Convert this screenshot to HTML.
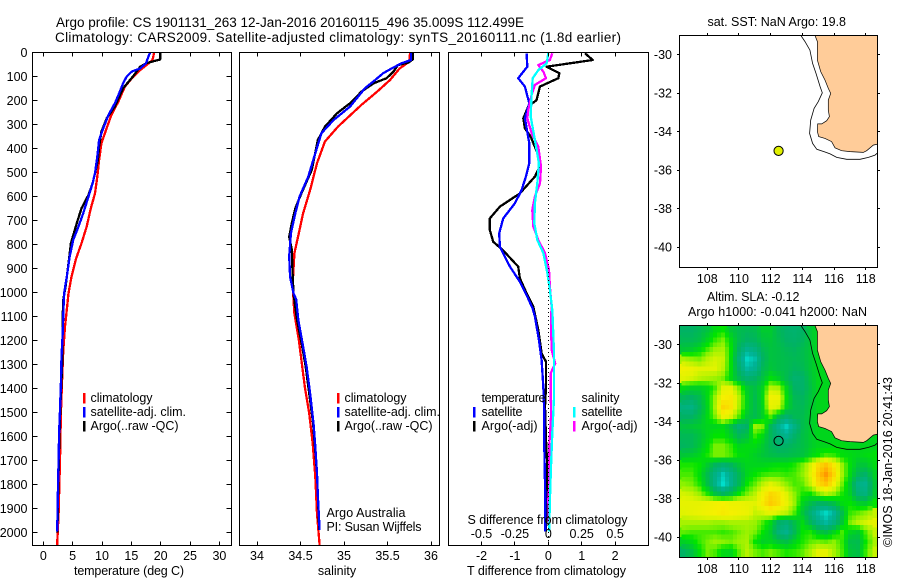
<!DOCTYPE html>
<html>
<head>
<meta charset="utf-8">
<title>Argo profile</title>
<style>
html,body{margin:0;padding:0;background:#fff;width:900px;height:580px;overflow:hidden}
svg{display:block}
text{font-family:"Liberation Sans",sans-serif;font-size:12.5px;fill:#000}
.ttl{font-size:13.5px}
</style>
</head>
<body>
<svg id="fig" width="900" height="580" viewBox="0 0 900 580" xmlns="http://www.w3.org/2000/svg">
  <defs>
    <clipPath id="clip-map2"><rect x="679.5" y="325.5" width="198" height="232"/></clipPath>
    <clipPath id="clip-map1"><rect x="679.5" y="35.5" width="198" height="232"/></clipPath>
  </defs>
  <text class="ttl" x="56" y="27" textLength="468" lengthAdjust="spacing">Argo profile: CS 1901131_263 12-Jan-2016 20160115_496 35.009S 112.499E</text>
  <text class="ttl" x="55" y="42" textLength="566" lengthAdjust="spacing">Climatology: CARS2009. Satellite-adjusted climatology: synTS_20160111.nc (1.8d earlier)</text>

  <g id="marks"></g>

  <text x="74" y="575" textLength="110">temperature (deg C)</text>
  <text x="337" y="575" text-anchor="middle">salinity</text>
  <text x="467" y="575" textLength="159">T difference from climatology</text>
  <text x="467.5" y="524" textLength="160">S difference from climatology</text>

  <g>
    <rect x="83" y="393" width="2.5" height="10.5" fill="#f00"/><rect x="83" y="407" width="2.5" height="10.5" fill="#00f"/><rect x="83" y="421" width="2.5" height="10.5" fill="#000"/>
    <text x="90.5" y="402" textLength="62">climatology</text><text x="90.5" y="416" textLength="95.5">satellite-adj. clim.</text><text x="90.5" y="430" textLength="88">Argo(..raw -QC)</text>
  </g>
  <g>
    <rect x="337" y="393" width="2.5" height="10.5" fill="#f00"/><rect x="337" y="407" width="2.5" height="10.5" fill="#00f"/><rect x="337" y="421" width="2.5" height="10.5" fill="#000"/>
    <text x="344.5" y="402" textLength="62">climatology</text><text x="344.5" y="416" textLength="95.5">satellite-adj. clim.</text><text x="344.5" y="430" textLength="88">Argo(..raw -QC)</text>
  </g>
  <text x="326.5" y="517" textLength="79">Argo Australia</text>
  <text x="326.5" y="531" textLength="95">PI: Susan Wijffels</text>
  <g>
    <text x="481.5" y="402" textLength="64">temperature</text><text x="481.5" y="416" textLength="41">satellite</text><text x="481.5" y="430" textLength="56">Argo(-adj)</text>
    <rect x="473" y="407" width="2.5" height="10.5" fill="#00f"/><rect x="473" y="421" width="2.5" height="10.5" fill="#000"/>
    <text x="581.5" y="402" textLength="38">salinity</text><text x="581.5" y="416" textLength="41">satellite</text><text x="581.5" y="430" textLength="56">Argo(-adj)</text>
    <rect x="573" y="407" width="2.5" height="10.5" fill="#0ff"/><rect x="573" y="421" width="2.5" height="10.5" fill="#f0f"/>
  </g>

  <text x="707.5" y="26" textLength="138.5">sat. SST: NaN Argo: 19.8</text>
  <text x="707" y="301" textLength="92.5">Altim. SLA: -0.12</text>
  <text x="688" y="316" textLength="179">Argo h1000: -0.041 h2000: NaN</text>
  <text transform="rotate(-90 892 547)" x="892" y="547" textLength="170">©IMOS 18-Jan-2016 20:41:43</text>
</svg>
<script>
// ---------- profile data (depth in dbar) ----------
const depthTicks = [0,100,200,300,400,500,600,700,800,900,1000,1100,1200,1300,1400,1500,1600,1700,1800,1900,2000];
const tempTicks = [0,5,10,15,20,25,30];
const salTicks = [34,34.5,35,35.5,36];
const salTickLabels = ['34','34.5','35','35.5','36'];
const tDiffTicks = [-2,-1,0,1,2];
const sDiffTicks = [-0.5,-0.25,0,0.25,0.5];
const sDiffTickLabels = ['-0.5','-0.25','0','0.25','0.5'];
const lonTicks = [108,110,112,114,116,118];
const latTicks = [-30,-32,-34,-36,-38,-40];

const tempArgoDepth = [0,30,45,60,100,150,226,275,330,393,450,504,546,594,650,705,754,796,880,976,1030,1101,1310,1450,1600,1800,2000];
const tempArgo = [19.9,19.9,17.6,16.5,15.3,13.6,12.2,10.8,9.9,9.5,9.3,8.8,8.4,7.7,6.5,5.8,5.2,4.7,4.3,3.8,3.4,3.3,3.2,2.95,2.75,2.55,2.4];
const tempSatDepth = [0,18,46,67,80,101,129,178,212,261,317,365,435,504,546,601,671,726,782,851,935,997,1030,1171,1268,1379,1490,1587,1699,1810,1949,1997];
const tempSat = [18.2,17.9,17.5,16.5,15.1,14.2,13.6,12.8,12.2,11.1,10.2,9.5,9.2,8.8,8.4,7.7,6.8,6,5.1,4.5,4,3.6,3.5,3.3,3.1,3,2.85,2.7,2.6,2.5,2.4,2.35];
const tempClimDepth = [0,32,53,80,108,143,205,261,323,379,449,518,588,650,726,796,858,935,1004,1073,1143,1240,1365,1504,1699,1921,2004,2053];
const tempClim = [18.9,18.6,17.6,16.2,15.1,13.9,12.8,11.6,10.7,9.9,9.5,9.2,8.8,8.1,7.4,6.5,5.6,4.8,4.3,4,3.7,3.4,3.2,3,2.85,2.6,2.45,2.35];

const salArgoDepth = [0,30,43,53,80,108,129,164,212,254,310,365,490,588,650,712,768,823,935,1004,1115,1226,1310,1421,1546,1643,1754,1851,1990];
const salArgo = [35.79,35.79,35.74,35.62,35.57,35.49,35.34,35.2,35.07,34.92,34.78,34.7,34.63,34.51,34.44,34.4,34.37,34.4,34.41,34.42,34.46,34.52,34.56,34.6,34.645,34.665,34.69,34.7,34.715];
const salSatDepth = [0,32,46,67,87,115,150,226,282,337,421,518,601,671,754,851,935,1004,1030,1115,1226,1310,1421,1546,1643,1754,1851,1990];
const salSat = [35.77,35.77,35.66,35.55,35.45,35.36,35.24,35.07,34.88,34.74,34.67,34.59,34.49,34.44,34.39,34.37,34.38,34.42,34.45,34.475,34.53,34.57,34.61,34.65,34.67,34.69,34.7,34.72];
const salClimDepth = [0,39,67,115,164,219,310,372,462,574,671,754,837,962,1030,1087,1198,1282,1393,1504,1629,1768,1921,2053];
const salClim = [35.76,35.75,35.64,35.53,35.38,35.2,34.93,34.78,34.69,34.61,34.53,34.48,34.43,34.41,34.42,34.43,34.48,34.51,34.55,34.6,34.64,34.67,34.69,34.72];

const dtArgoDepth = [4,32,60,87,108,143,199,226,275,317,351,435,483,518,588,643,692,740,789,826,893,942,1004,1060,1157,1254,1289,1393,1476,1615,1726,1865,1997];
const dtArgo = [1.1,1.33,-0.05,0.33,0.3,-0.25,-0.35,-0.6,-0.75,-0.7,-0.53,-0.28,-0.28,-0.4,-0.85,-1.45,-1.75,-1.75,-1.65,-1.35,-0.9,-0.85,-0.65,-0.45,-0.3,-0.2,-0.07,-0.07,-0.1,-0.07,-0.03,-0.05,-0.07];
const dtSatDepth = [4,60,108,143,213,275,379,462,518,574,629,692,754,810,893,956,1018,1067,1101,1198,1282,1393,1504,1643,1865,1997];
const dtSat = [-0.65,-0.63,-0.9,-0.7,-0.57,-0.7,-0.57,-0.57,-0.67,-0.8,-1,-1.35,-1.47,-1.45,-1.15,-0.85,-0.63,-0.47,-0.4,-0.28,-0.2,-0.15,-0.12,-0.12,-0.09,-0.09];
const dsArgoDepth = [4,32,53,81,108,136,178,240,275,337,393,476,546,601,657,726,782,837,907,976,1060,1115,1240,1296,1337,1518,1643,1810,1865,1997];
const dsArgo = [0.03,0.012,-0.075,-0.037,-0.017,-0.1,-0.125,-0.15,-0.157,-0.125,-0.075,-0.055,-0.062,-0.1,-0.12,-0.112,-0.075,-0.025,0.005,0.012,0.025,0.02,0.025,0.052,0.018,0.02,0.007,0.007,0,0.007];
const dsSatDepth = [4,46,74,108,178,268,365,462,546,629,712,782,837,921,990,1074,1101,1240,1449,1587,1726,1865,1997];
const dsSat = [0,-0.012,-0.075,-0.117,-0.125,-0.132,-0.1,-0.07,-0.082,-0.1,-0.105,-0.082,-0.037,-0.007,0.012,0.03,0.032,0.042,0.042,0.03,0.02,0.012,0.007];

// ---------- map data ----------
const landLon = [114.8,114.95,114.95,115.16,115.43,115.64,115.79,115.64,115.64,115.71,115.54,115.22,114.97,114.95,115.03,115.43,115.85,116.06,116.48,117.01,117.85,118.06,118.48,118.76,118.76];
const landLat = [-29,-29.32,-30.28,-30.88,-31.32,-31.75,-32.01,-32.36,-32.88,-33.22,-33.43,-33.6,-33.6,-34,-34.26,-34.35,-34.52,-34.84,-34.99,-35.04,-35.08,-34.99,-34.7,-34.65,-29];
const isoLon = [113.89,114.17,114.48,114.65,114.86,115.12,115.26,115.01,114.74,114.53,114.46,114.65,114.91,115.43,115.75,116.17,116.8,117.64,118.17,118.59,118.76];
const isoLat = [-28.98,-29.32,-29.76,-30.45,-30.97,-31.66,-31.98,-32.44,-32.79,-33.4,-34.09,-34.61,-34.92,-35.06,-35.16,-35.34,-35.44,-35.44,-35.34,-35.22,-35.1];
const profileLon = 112.5;
const profileLat = -35;

// sea level anomaly (cm): rows north to south, 0.5 deg spacing from 29.25S; columns from 106.5E
const slaFirstLon = 106.5;
const slaFirstLat = -29.25;
const slaStep = 0.5;
const slaGrid = [
[-12,-12,-10,-7,-2,0,-6,-9,-10,-9,-5,-5,-10,-13,-14,-12,-6,-3,-3,-3,-3,-3,-3,-3,-3],
[-10,-10,-8,-3,2,5,-2,-9,-12,-11,-7,-6,-9,-12,-13,-11,-6,-3,-3,-3,-3,-3,-3,-3,-3],
[-6,-5,-2,3,7,8,0,-12,-20,-17,-10,-7,-8,-10,-11,-9,-6,-3,-3,-3,-3,-3,-3,-3,-3],
[8,6,5,9,11,10,-1,-16,-28,-24,-12,-7,-8,-9,-10,-9,-6,-3,-3,-3,-3,-3,-3,-3,-3],
[15,14,12,12,12,9,-1,-13,-23,-20,-10,-6,-8,-9,-11,-10,-6,-3,-3,-3,-3,-3,-3,-3,-3],
[12,11,9,8,7,5,-2,-9,-14,-12,-7,-1,-4,-9,-14,-13,-7,-3,-3,-3,-3,-3,-3,-3,-3],
[-2,-4,-4,-2,3,12,13,5,-5,-8,-3,9,8,-3,-12,-13,-8,-3,-3,-3,-3,-3,-3,-3,-3],
[-10,-12,-9,-2,7,16,17,9,-3,-9,-2,15,14,-1,-10,-11,-7,-3,-3,-3,-3,-3,-3,-3,-3],
[-17,-18,-11,-3,8,20,18,8,-3,-9,-3,13,11,-3,-9,-10,-6,-3,-3,-3,-3,-3,-3,-3,-3],
[-12,-12,-8,-2,5,14,11,3,-6,-9,-4,3,-8,-14,-10,-9,-5,-3,-3,-3,-3,-3,-3,-3,-3],
[-7,-6,-5,-3,-3,-2,-7,-15,-12,7,5,-10,-20,-27,-18,-9,-5,-3,-3,-3,-3,-3,-3,-3,-3],
[-10,-10,-7,-3,0,0,-4,-10,-7,2,-2,-10,-16,-20,-13,-8,-5,-3,-3,-3,-3,-3,-3,-3,-3],
[-11,-10,-6,-1,5,5,2,-3,-2,-2,-5,-10,-13,-12,-10,-8,-5,-3,-3,-2,-2,-3,-3,-3,-3],
[-6,-5,-3,1,5,5,3,-1,-2,-4,-6,-8,-9,-9,-8,-7,-3,0,3,2,-1,-2,-3,-2,-1],
[1,1,0,-5,-11,-14,-11,-6,-3,-3,-3,-2,-1,-1,1,5,11,19,23,17,7,-1,-6,-6,-2],
[3,3,-1,-9,-18,-26,-19,-10,-3,0,2,3,3,2,3,6,12,22,29,20,8,-2,-10,-13,-4],
[6,5,1,-8,-19,-29,-20,-10,0,4,9,12,10,6,3,4,10,19,23,16,5,-5,-18,-20,-6],
[11,10,7,1,-7,-11,-7,0,5,9,15,20,18,12,6,1,0,5,9,6,1,-4,-15,-17,-5],
[13,13,13,14,15,16,14,14,13,12,17,22,19,14,7,-3,-8,-12,-11,-8,-2,0,-4,-5,0],
[12,13,14,15,16,17,16,15,14,10,11,13,11,9,3,-6,-15,-23,-28,-22,-9,2,4,6,10],
[8,8,8,8,7,7,8,8,8,7,3,-2,-12,-15,-8,-2,-10,-18,-23,-17,-6,5,9,11,13],
[4,3,3,3,3,2,3,5,7,5,0,-5,-16,-20,-10,0,1,-5,-8,-3,3,-3,-5,3,10],
[-4,-2,2,5,7,6,5,7,8,0,-4,-3,-6,-8,-3,1,4,5,4,6,2,-8,-9,0,8],
[-12,-8,-1,5,3,-2,-3,4,9,5,3,5,3,1,2,4,8,13,13,8,3,-6,-8,2,10],
[-12,-8,-1,5,3,-2,-3,4,9,5,3,5,3,1,2,4,8,13,13,8,3,-6,-8,2,10]
];

// ---------- axis functions ----------
const yDepth = d => 52.3 + 0.24 * d;
const xTemp = t => 43.3 + 5.87 * t;
const xSal = s => 257 + 87 * (s - 34);
const xDT = t => 548.3 + 33.4 * t;
const xDS = s => 548.3 + 133.6 * s;
const xLon = l => 707.3 + 15.84 * (l - 108);
const yLat1 = l => 54.7 - 19.23 * (l + 30);
const yLat2 = l => 344.7 - 19.23 * (l + 30);

const NS = 'http://www.w3.org/2000/svg';
const marks = document.getElementById('marks');
function mk(tag, attrs, parent) {
  const el = document.createElementNS(NS, tag);
  for (const k in attrs) el.setAttribute(k, attrs[k]);
  (parent || marks).appendChild(el);
  return el;
}
function pts(xs, ys, fx, fy) {
  return xs.map((v, i) => fx(v).toFixed(1) + ',' + fy(ys[i]).toFixed(1)).join(' ');
}
function curve(name, vals, depths, fx, color, width) {
  const el = mk('polyline', {points: pts(vals, depths, fx, yDepth), fill: 'none', stroke: color, 'stroke-width': width, 'stroke-linejoin': 'round', 'shape-rendering': 'crispEdges'});
  
  
}
function frame(name, x0, y0, x1, y1) {
  const el = mk('rect', {x: x0, y: y0, width: x1 - x0, height: y1 - y0, fill: 'none', stroke: '#000', 'stroke-width': 1, 'shape-rendering': 'crispEdges'});
  
  
}
function tick(x1, y1, x2, y2) {
  const el = mk('line', {x1: x1, y1: y1, x2: x2, y2: y2, stroke: '#000', 'stroke-width': 1, 'shape-rendering': 'crispEdges'});
  
  
}
function label(str, x, y, anchor) {
  const el = mk('text', {x: x, y: y, 'text-anchor': anchor});
  el.textContent = str;
  
  
}
function snap(v) { return Math.round(v) + 0.5; }

// ---------- SLA heatmap ----------
const slaStops = [-30,-22,-12,-6,0,6,12,16,24,30];
const slaColors = [[0,228,210],[0,178,150],[0,178,100],[0,198,55],[0,228,0],[140,242,0],[225,243,0],[245,240,0],[255,190,0],[255,145,0]];
function slaColor(v) {
  let i = 0;
  while (i < slaStops.length - 2 && v > slaStops[i + 1]) i++;
  const f = Math.max(0, Math.min(1, (v - slaStops[i]) / (slaStops[i + 1] - slaStops[i])));
  const a = slaColors[i], b = slaColors[i + 1];
  return 'rgb(' + a.map((c, k) => Math.round(c + (b[k] - c) * f)).join(',') + ')';
}
const heat = mk('g', {'clip-path': 'url(#clip-map2)', 'shape-rendering': 'crispEdges'});


const sub = 2;
// padding along the map edges, beyond the first and last grid centres
const lastCol = slaGrid[0].length - 1;
const lastRow = slaGrid.length - 1;
const xEdge = xLon(slaFirstLon + (lastCol - 0.5 / sub) * slaStep);
for (let c = 0; c <= lastCol; c++) {
  const xA = xLon(slaFirstLon + (c - 0.5) * slaStep);
  const w = 15.84 * slaStep + 0.6;
  const yTop = yLat2(slaFirstLat - 0.5 * (0.5 / sub) * 0 + 0.25 * slaStep);
  const top = mk('rect', {x: xA.toFixed(1), y: 325, width: w.toFixed(1), height: (yTop - 325 + 0.6).toFixed(1), fill: slaColor(slaGrid[0][c])}, heat);
  
  
  const yBot = yLat2(slaFirstLat - (lastRow - 0.25) * slaStep);
  const bottom = mk('rect', {x: xA.toFixed(1), y: yBot.toFixed(1), width: w.toFixed(1), height: (558 - yBot).toFixed(1), fill: slaColor(slaGrid[lastRow][c])}, heat);
  
  
}
for (let r = 0; r < slaGrid.length; r++) {
  const lat = slaFirstLat - (r - 0.5) * slaStep;
  const yA = yLat2(lat), h = 19.23 * slaStep + 0.6;
  const left = mk('rect', {x: 679, y: yA.toFixed(1), width: (xLon(slaFirstLon) - 679 + 0.6).toFixed(1), height: h.toFixed(1), fill: slaColor(slaGrid[r][0])}, heat);
  
  
  const right = mk('rect', {x: xEdge.toFixed(1), y: yA.toFixed(1), width: (878 - xEdge).toFixed(1), height: h.toFixed(1), fill: slaColor(slaGrid[r][lastCol])}, heat);
  
  
}
for (let r = 0; r < slaGrid.length - 1; r++) {
  for (let c = 0; c < slaGrid[r].length - 1; c++) {
    for (let i = 0; i < sub; i++) {
      for (let j = 0; j < sub; j++) {
        const fr = i / sub, fc = j / sub;
        const v = slaGrid[r][c] * (1 - fr) * (1 - fc) + slaGrid[r][c + 1] * (1 - fr) * fc + slaGrid[r + 1][c] * fr * (1 - fc) + slaGrid[r + 1][c + 1] * fr * fc;
        const lon = slaFirstLon + (c + fc - 0.5 / sub) * slaStep;
        const lat = slaFirstLat - (r + fr - 0.5 / sub) * slaStep;
        const x0 = xLon(lon), y0 = yLat2(lat);
        const x1 = xLon(lon + slaStep / sub), y1 = yLat2(lat - slaStep / sub);
        const cell = mk('rect', {x: x0.toFixed(1), y: y0.toFixed(1), width: (x1 - x0 + 0.6).toFixed(1), height: (y1 - y0 + 0.6).toFixed(1), fill: slaColor(v)}, heat);
        
        
      }
    }
  }
}

// ---------- profile panels ----------
curve('temperature-climatology-line', tempClim, tempClimDepth, xTemp, '#f00', 2.3);
curve('temperature-argo-line', tempArgo, tempArgoDepth, xTemp, '#000', 2.3);
curve('temperature-satellite-line', tempSat, tempSatDepth, xTemp, '#00f', 2.3);
curve('salinity-climatology-line', salClim, salClimDepth, xSal, '#f00', 2.3);
curve('salinity-argo-line', salArgo, salArgoDepth, xSal, '#000', 2.3);
curve('salinity-satellite-line', salSat, salSatDepth, xSal, '#00f', 2.3);
curve('t-diff-argo-line', dtArgo, dtArgoDepth, xDT, '#000', 2.3);
curve('t-diff-satellite-line', dtSat, dtSatDepth, xDT, '#00f', 2.3);
curve('s-diff-argo-line', dsArgo, dsArgoDepth, xDS, '#f0f', 2.3);
curve('s-diff-satellite-line', dsSat, dsSatDepth, xDS, '#0ff', 2.3);

const zeroLine = mk('line', {x1: 548.5, y1: 88, x2: 548.5, y2: 545, stroke: '#000', 'stroke-width': 1, 'stroke-dasharray': '1 3', 'shape-rendering': 'crispEdges'});



frame('temperature-panel-frame', 32.5, 52.5, 231.5, 545.5);
frame('salinity-panel-frame', 239.5, 52.5, 439.5, 545.5);
frame('difference-panel-frame', 448.5, 52.5, 648.5, 545.5);

depthTicks.forEach(d => {
  const y = snap(yDepth(d) - 0.5);
  if (d > 0) {
    tick(32.5, y, 37.5, y);
    tick(226.5, y, 231.5, y);
  }
  label(String(d), 27.5, yDepth(d) + 4.5, 'end');
});
tempTicks.forEach(t => {
  const x = snap(xTemp(t) - 0.5);
  tick(x, 52.5, x, 56.5);
  tick(x, 541.5, x, 545.5);
  label(String(t), xTemp(t), 560, 'middle');
});
salTicks.forEach((s, i) => {
  const x = snap(xSal(s) - 0.5);
  tick(x, 52.5, x, 56.5);
  tick(x, 541.5, x, 545.5);
  label(salTickLabels[i], xSal(s), 560, 'middle');
});
tDiffTicks.forEach(t => {
  const x = snap(xDT(t) - 0.5);
  tick(x, 52.5, x, 56.5);
  tick(x, 541.5, x, 545.5);
  label(String(t), xDT(t), 560, 'middle');
});
sDiffTicks.forEach((s, i) => {
  label(sDiffTickLabels[i], xDS(s), 538, 'middle');
});

// ---------- maps ----------
function drawMap(prefix, yLat, y0, clip) {
  const land = mk('polygon', {points: pts(landLon, landLat, xLon, yLat), fill: '#ffcc99', stroke: '#000', 'stroke-width': 0.7, 'clip-path': clip});
  
  
  const iso = mk('polyline', {points: pts(isoLon, isoLat, xLon, yLat), fill: 'none', stroke: '#000', 'stroke-width': 0.8, 'clip-path': clip});
  
  
  frame(prefix + '-frame', 679.5, y0 + 0.5, 877.5, y0 + 232.5);
  lonTicks.forEach(l => {
    const x = snap(xLon(l) - 0.5);
    tick(x, y0 - 2, x, y0 + 0.5);
    tick(x, y0 + 232.5, x, y0 + 235);
    label(String(l), xLon(l), y0 + 248, 'middle');
  });
  latTicks.forEach(l => {
    const y = snap(yLat(l) - 0.5);
    tick(677, y, 679.5, y);
    tick(877.5, y, 880, y);
    label(String(l), 672, yLat(l) + 4.5, 'end');
  });
}
drawMap('sst-map', yLat1, 35, 'url(#clip-map1)');
drawMap('sla-map', yLat2, 325, 'url(#clip-map2)');

const dot1 = mk('circle', {cx: xLon(profileLon), cy: yLat1(profileLat), r: 4.6, fill: '#e0f000', stroke: '#000', 'stroke-width': 1});


const dot2 = mk('circle', {cx: xLon(profileLon), cy: yLat2(profileLat), r: 4.6, fill: 'none', stroke: '#000', 'stroke-width': 1});


</script>
</body>
</html>
